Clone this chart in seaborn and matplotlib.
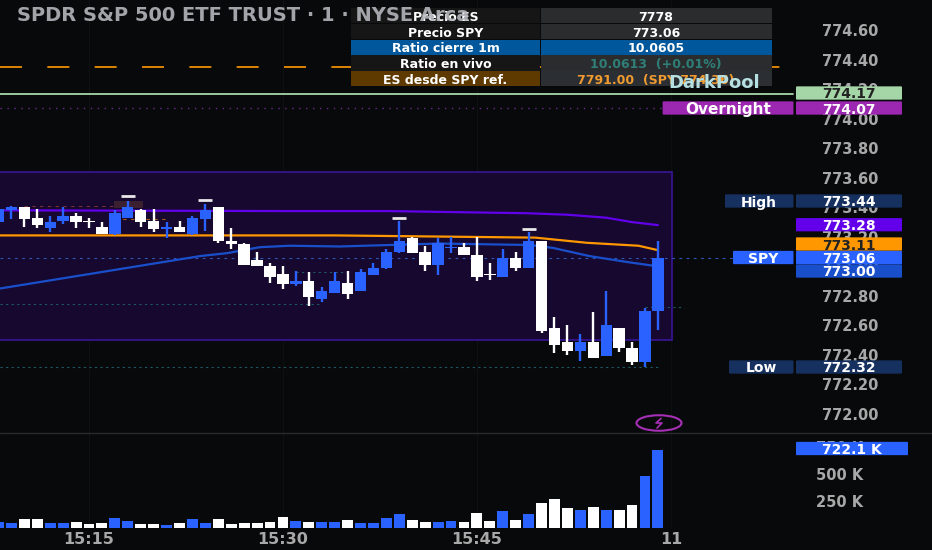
import matplotlib
matplotlib.use("Agg")
import matplotlib.pyplot as plt
from matplotlib.patches import Rectangle, FancyBboxPatch, Ellipse
from matplotlib.ticker import FuncFormatter
import numpy as np
import pandas as pd
import seaborn as sns

# ---------- data ----------
minutes = list(range(8, 60))
highs = [773.39,773.41,773.40,773.39,773.34,773.40,773.36,773.33,773.30,773.38,773.44,773.39,773.39,773.30,773.31,773.34,773.42,773.40,773.26,773.16,773.10,773.02,773.00,772.97,772.96,772.86,772.96,772.97,772.98,773.02,773.12,773.31,773.20,773.14,773.19,773.20,773.16,773.20,773.02,773.12,773.10,773.23,773.17,772.66,772.60,772.54,772.69,772.83,772.58,772.49,772.72,773.17]
opens = [773.30,773.38,773.40,773.33,773.26,773.31,773.34,773.305,773.27,773.22,773.33,773.38,773.31,773.25,773.27,773.22,773.32,773.40,773.17,773.15,773.04,773.00,772.95,772.88,772.90,772.78,772.82,772.89,772.83,772.94,772.99,773.10,773.19,773.10,773.01,773.125,773.13,773.08,772.95,772.93,773.06,772.99,773.17,772.58,772.49,772.43,772.49,772.39,772.58,772.45,772.35,772.70]
closes = [773.39,773.40,773.32,773.28,773.30,773.34,773.30,773.30,773.22,773.36,773.40,773.30,773.25,773.27,773.23,773.33,773.38,773.17,773.15,773.01,773.00,772.93,772.88,772.90,772.79,772.83,772.90,772.81,772.96,772.99,773.10,773.17,773.09,773.01,773.16,773.13,773.08,772.93,772.94,773.06,772.99,773.17,772.56,772.47,772.43,772.49,772.38,772.60,772.45,772.35,772.70,773.06]
lows = [773.30,773.32,773.27,773.26,773.23,773.29,773.26,773.26,773.22,773.21,773.33,773.27,773.23,773.19,773.23,773.21,773.24,773.16,773.12,773.01,773.00,772.89,772.85,772.87,772.73,772.76,772.82,772.78,772.83,772.94,772.98,773.09,773.09,772.97,772.94,773.09,773.08,772.90,772.91,772.93,772.97,772.99,772.55,772.41,772.40,772.36,772.38,772.39,772.42,772.33,772.32,772.57]
volumes = [56,43,86,80,43,43,59,34,43,93,65,37,37,28,49,80,49,80,34,49,49,59,102,65,59,59,52,77,43,43,90,133,77,59,59,68,52,139,68,154,77,133,228,272,185,170,191,170,170,213,478,722]

purple_t = [8.1,30,38,49,52,55,57,59]
purple_p = [773.38,773.375,773.375,773.36,773.35,773.33,773.30,773.28]
orange_t = [8.1,34,49.5,53.5,57.5,59]
orange_p = [773.21,773.21,773.195,773.16,773.14,773.11]
vwap_t = [8.1,23.6,25.7,28.2,30.5,34.4,42.1,49.1,50.9,53.7,56.6,59]
vwap_p = [772.85,773.07,773.09,773.13,773.14,773.135,773.155,773.145,773.125,773.07,773.03,773.00]
hat_t = [18,24,39,49]
hat_p = [773.475,773.45,773.33,773.25]

level_es = 774.35
level_darkpool = 774.17
level_overnight = 774.07
level_last = 773.06
level_low = 772.32
box_top, box_bottom = 773.64, 772.50

price_ticks = [772.0,772.2,772.4,772.6,772.8,773.0,773.2,773.4,773.6,773.8,774.0,774.2,774.4,774.6]
volume_ticks = [250,500,750]
time_ticks = [15,30,45,60]
time_labels = ["15:15","15:30","15:45","11"]

table_left = ["Precio ES","Precio SPY","Ratio cierre 1m","Ratio en vivo","ES desde SPY ref."]
table_right = ["7778","773.06","10.0605","10.0613  (+0.01%)","7791.00  (SPY 774.36)"]
title = "SPDR S&P 500 ETF TRUST · 1 · NYSE Arca"

# ---------- style ----------
BG = "#08090a"; BLUE = "#2962ff"; WHITE = "#ffffff"; GRID = "#0f1012"
PURPLE = "#6200ea"; ORANGE = "#ff9800"; VWAP = "#1a4fcc"; NAVY = "#16305f"
TICK = "#a8a8a8"; MAG = "#9c27b0"; GREEN = "#a5d6a7"; TEAL = "#1d5a66"

sns.set_theme(style="dark", rc={"axes.facecolor": BG, "figure.facecolor": BG})
plt.rcParams["font.family"] = ["DejaVu Sans"]

W, H = 932, 550
fig = plt.figure(figsize=(W/100, H/100), dpi=100, facecolor=BG)
ax = fig.add_axes([0, (H-433)/H, 1, 433/H])
vax = fig.add_axes([0, 22/H, 1, 95/H], sharex=ax)

PX_T = 12.93
xlim = (15-89/PX_T, 15+(W-89)/PX_T)
ylim = (772+(414-433)/147.6, 772+414/147.6)

df = pd.DataFrame(dict(t=minutes, o=opens, h=highs, l=lows, c=closes, v=volumes))
df["dir"] = np.where(df.c > df.o, "up", "down")
colors = df.dir.map({"up": BLUE, "down": WHITE})

# box + levels
ax.add_patch(Rectangle((xlim[0]-1, box_bottom), 60.1-xlim[0]+1, box_top-box_bottom,
                       facecolor="#16082e", edgecolor="#3a159a", lw=1.2, zorder=1))
ax.plot([xlim[0], xlim[0]+781/PX_T], [level_es]*2, color=ORANGE, lw=1.2,
        dashes=(13.2, 15.2), zorder=2)
ax.plot([xlim[0], xlim[0]+793/PX_T], [level_darkpool]*2, color=GREEN, lw=1.3, zorder=2)
ax.plot([xlim[0], xlim[0]+662/PX_T], [level_overnight]*2, color="#6a2a8a", lw=1, ls=(0,(1,4)), zorder=2)
ax.plot([xlim[0], xlim[0]+733/PX_T], [level_last]*2, color="#2f55b5", lw=0.8, ls=(0,(2.5,4)), zorder=2)
ax.plot([xlim[0], 59], [level_low]*2, color=TEAL, lw=0.8, ls=(0,(2,3)), zorder=2)
ax.plot([xlim[0], 33], [772.745]*2, color=TEAL, lw=0.8, ls=(0,(2,3)), zorder=2)
ax.plot([31, 35], [772.96]*2, color=TEAL, lw=0.8, ls=(0,(2,3)), zorder=2)
ax.plot([58, 61], [772.725]*2, color=TEAL, lw=0.8, ls=(0,(2,3)), zorder=2)
ax.plot([10, 17], [773.41]*2, color="#7a3030", lw=0.8, ls=(0,(3,4)), zorder=2)
ax.plot([17, 21], [773.32]*2, color="#a85a20", lw=0.8, ls=(0,(3,4)), zorder=2)
ax.add_patch(Rectangle((16.95, 773.395), 2.25, 0.05, facecolor="#3a2030", edgecolor="none", zorder=2))

# moving lines
for tt, pp, cc in [(purple_t, purple_p, PURPLE), (orange_t, orange_p, ORANGE), (vwap_t, vwap_p, VWAP)]:
    sns.lineplot(x=tt, y=pp, ax=ax, color=cc, lw=1.6, estimator=None, sort=False, zorder=3)

# candles
ax.vlines(df.t, df.l, df.h, colors=colors, lw=1.7, zorder=4)
ax.bar(df.t, (df.c-df.o).abs().clip(lower=0.007), bottom=df[["o", "c"]].min(axis=1), width=0.88,
       color=colors, edgecolor="none", zorder=5)
ax.plot(hat_t, hat_p, ls="", marker="_", ms=10, mew=2, color="#e8e8e8", zorder=5)

ax.set_xlim(xlim); ax.set_ylim(ylim)
ax.set_yticks(price_ticks)
ax.yaxis.set_major_formatter(FuncFormatter(lambda v, _: f"{v:.2f}"))
ax.yaxis.tick_right()
ax.tick_params(axis="y", length=0, pad=-(W-822)*0.72, labelsize=10.5, labelcolor=TICK)
for lb in ax.get_yticklabels():
    lb.set_fontweight("bold"); lb.set_ha("left")
ax.grid(True, axis="x", color=GRID, lw=0.8)
ax.grid(False, axis="y")
ax.set_axisbelow(True)
ax.tick_params(axis="x", length=0, labelbottom=False)
for s in ax.spines.values():
    s.set_visible(False)

# volume
sns.barplot(data=df, x="t", y="v", hue="dir", palette={"up": BLUE, "down": WHITE}, dodge=False,
            native_scale=True, width=0.84, saturation=1, legend=False, ax=vax, edgecolor="none")
vax.set_xlim(xlim); vax.set_ylim(0, 95*9.26)
vax.set_xlabel(""); vax.set_ylabel("")
vax.set_xticks(time_ticks); vax.set_xticklabels(time_labels)
vax.tick_params(axis="x", length=0, pad=3, labelsize=11.5, labelcolor=TICK)
for lb in vax.get_xticklabels():
    lb.set_fontweight("bold")
vax.set_yticks(volume_ticks)
vax.yaxis.set_major_formatter(FuncFormatter(lambda v, _: f"{v:.0f} K"))
vax.yaxis.tick_right()
vax.tick_params(axis="y", length=0, pad=-(W-816)*0.72, labelsize=10.5, labelcolor=TICK)
for lb in vax.get_yticklabels():
    lb.set_fontweight("bold"); lb.set_ha("left")
vax.grid(True, axis="x", color=GRID, lw=0.8)
vax.grid(False, axis="y")
vax.set_axisbelow(True)
for s in vax.spines.values():
    s.set_visible(False)

# ---------- overlay in pixel coordinates ----------
ov = fig.add_axes([0, 0, 1, 1], zorder=10)
ov.set_xlim(0, W); ov.set_ylim(H, 0); ov.axis("off"); ov.patch.set_alpha(0)
ov.plot([0, W], [433, 433], color="#2a2a2a", lw=1)

def tag(x0, x1, yc, color, text, tc="white", fs=10, h=13.3):
    ov.add_patch(FancyBboxPatch((x0+1, yc-h/2+1), x1-x0-2, h-2, boxstyle="round,pad=1",
                                facecolor=color, edgecolor="none", zorder=3))
    ov.text((x0+x1)/2, yc, text, color=tc, fontsize=fs, fontweight="bold",
            ha="center", va="center_baseline", zorder=4)

# table
row_h = 15.8; top = 8
row_fill_l = ["#161616", "#161616", "#01579b", "#161616", "#5f3a00"]
row_fill_r = ["#2b2c2e", "#2b2c2e", "#01579b", "#2b2c2e", "#2b2f33"]
row_tc = ["white", "white", "white", "#2f7f78", "#f09a30"]
for i in range(5):
    y0 = top + i*row_h
    ov.add_patch(Rectangle((351, y0), 189, row_h-0.6, facecolor=row_fill_l[i], edgecolor="none", zorder=2))
    ov.add_patch(Rectangle((541, y0), 231, row_h-0.6, facecolor=row_fill_r[i], edgecolor="none", zorder=2))
    ov.text(445.5, y0+row_h/2, table_left[i], color="white", fontsize=9, fontweight="bold",
            ha="center", va="center_baseline", zorder=3)
    ov.text(656, y0+row_h/2, table_right[i], color=row_tc[i], fontsize=9, fontweight="bold",
            ha="center", va="center_baseline", zorder=3)
ov.text(17, 13.5, title, color="#b4b6bc", fontsize=14, fontweight="bold",
        ha="left", va="center_baseline", zorder=4, alpha=0.9)
ov.text(714.5, 81, "DarkPool", color="#b5dfe0", fontsize=13, fontweight="bold",
        ha="center", va="center_baseline", zorder=5)

# tags
tag(796, 902, 93, GREEN, f"{level_darkpool:.2f}", tc="#222")
tag(662.6, 793.5, 108, MAG, "Overnight", fs=11)
tag(796, 902, 108, MAG, f"{level_overnight:.2f}")
tag(725, 793.5, 201, NAVY, "High")
tag(796, 902, 201, NAVY, "773.44")
tag(796, 902, 224.7, PURPLE, f"{purple_p[-1]:.2f}")
tag(796, 902, 244, ORANGE, f"{orange_p[-1]:.2f}", tc="#222")
tag(796, 902, 271, VWAP, f"{vwap_p[-1]:.2f}")
tag(733, 793.5, 257.5, BLUE, "SPY")
tag(796, 902, 257.5, BLUE, f"{level_last:.2f}")
tag(729, 793.5, 367, NAVY, "Low")
tag(796, 902, 367, NAVY, f"{level_low:.2f}")
tag(796, 908, 448.5, BLUE, "722.1 K")

# event icon
ov.add_patch(Ellipse((659, 423), 45, 15.5, facecolor="none", edgecolor="#a52fb5", lw=1.5, zorder=3))
ov.plot([661, 656, 662, 657], [418.5, 423, 423, 428], color="#a52fb5", lw=1.2, zorder=3)

fig.savefig("out.png", dpi=100, facecolor=BG)
